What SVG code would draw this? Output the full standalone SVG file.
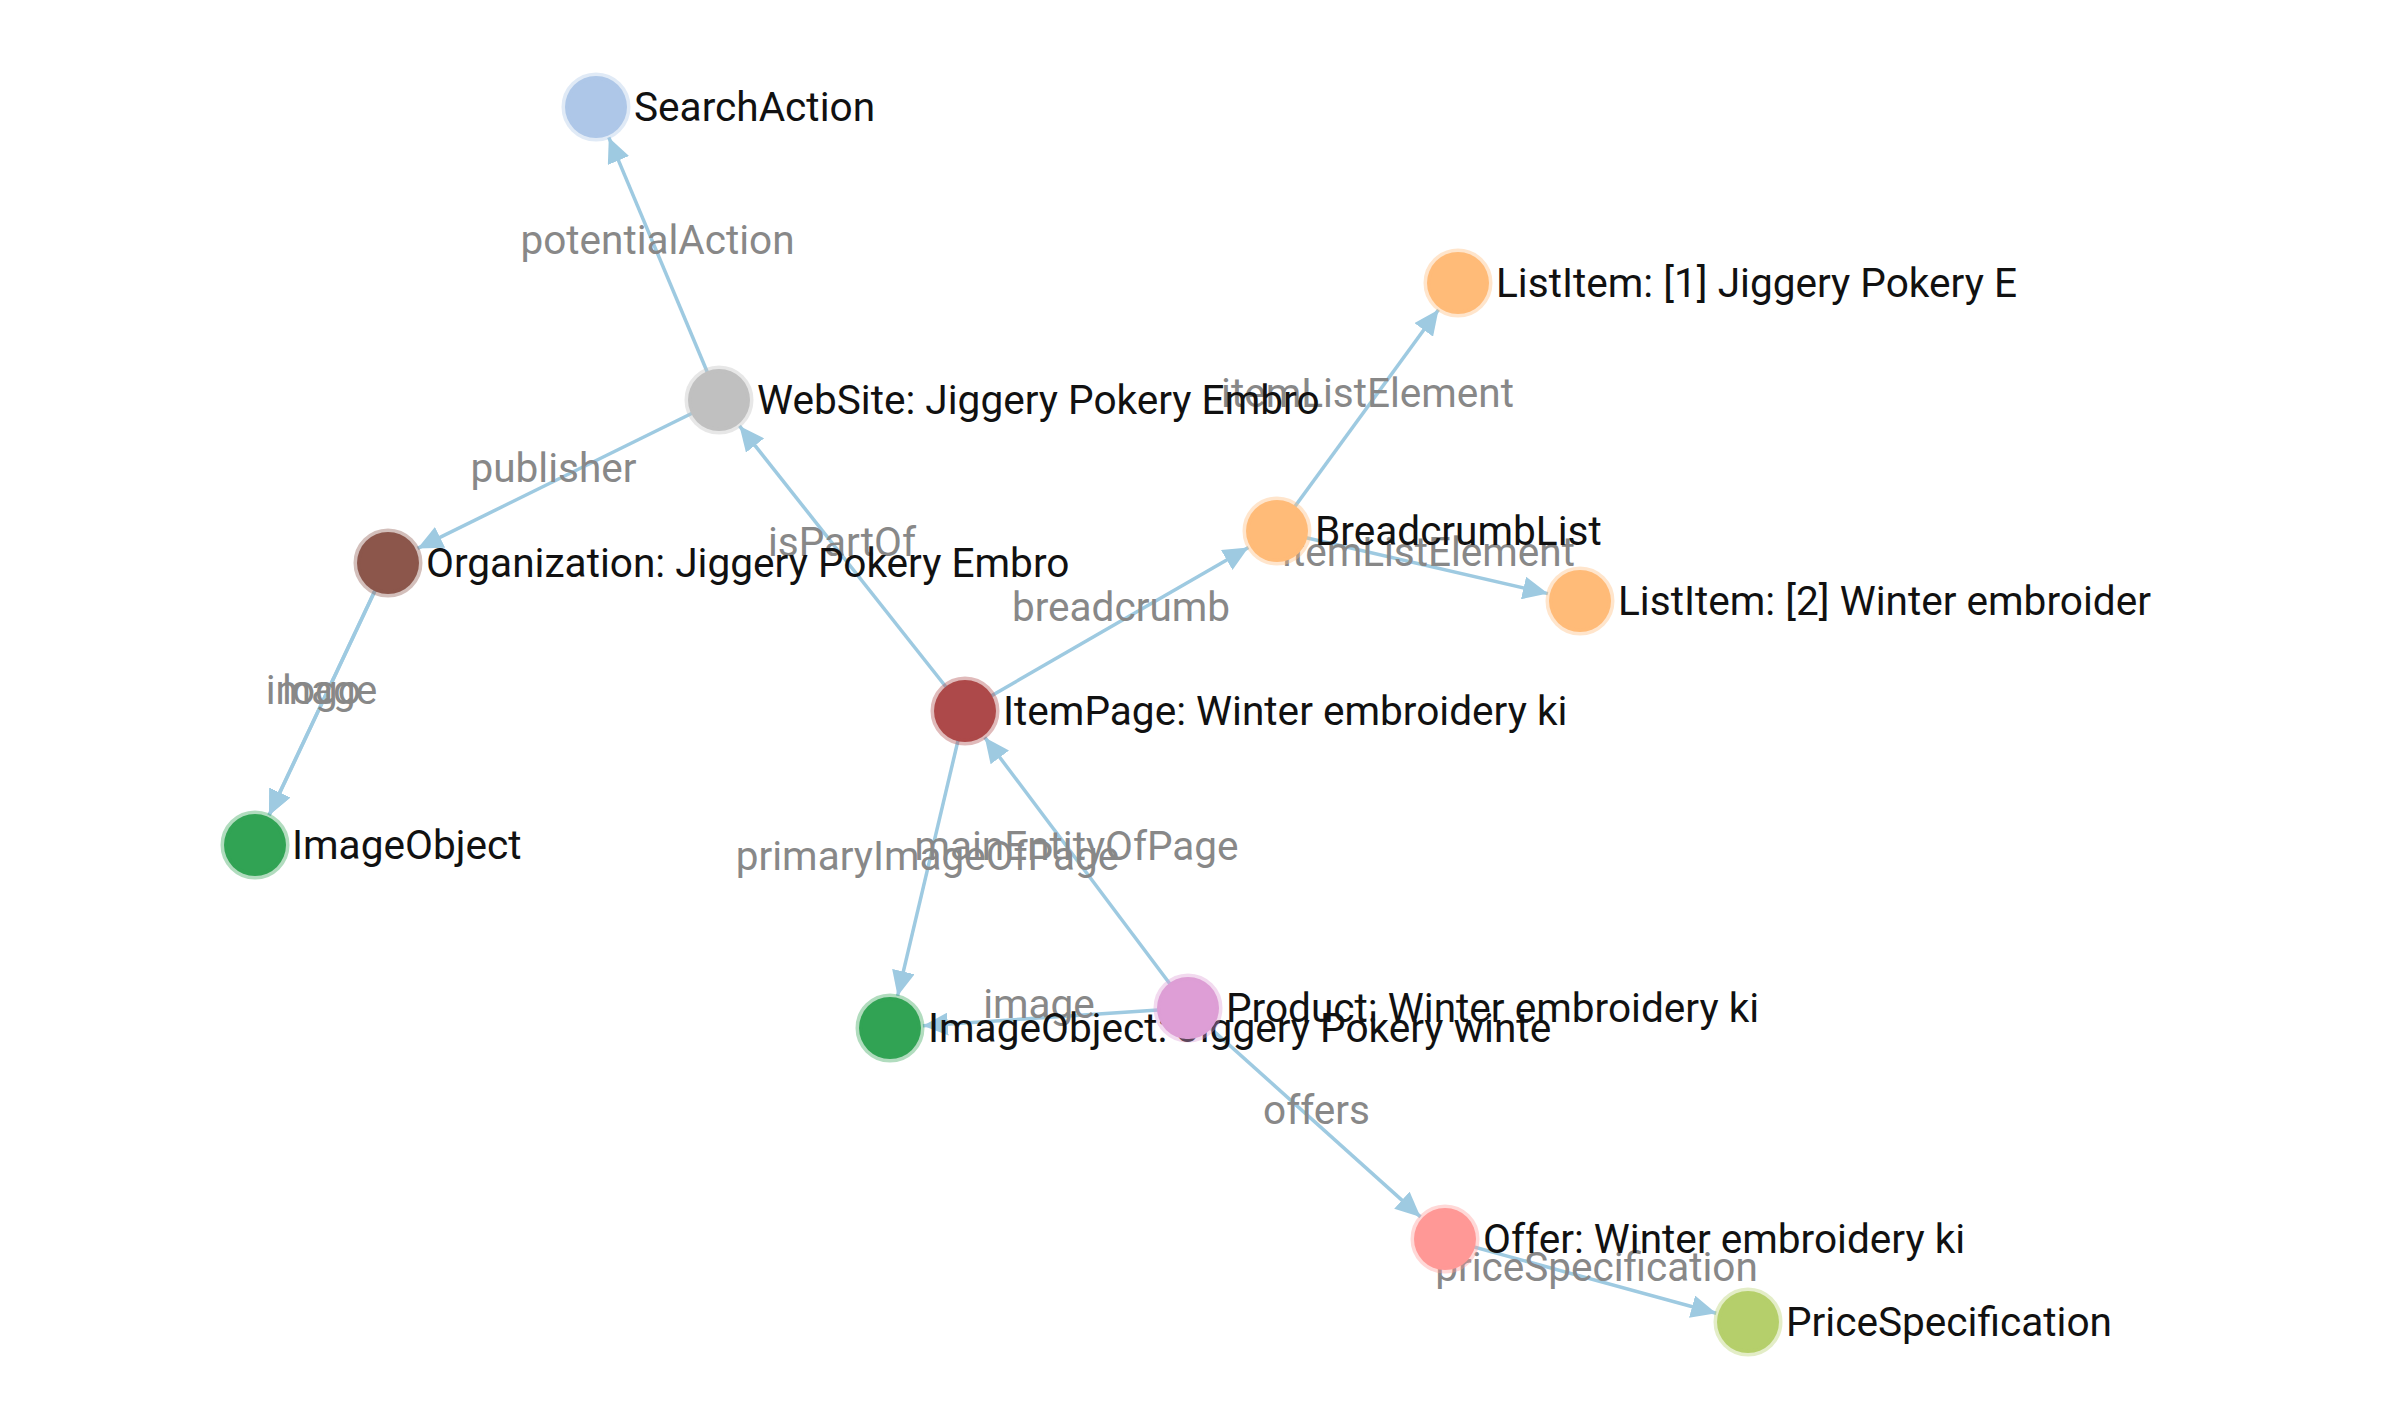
<svg xmlns="http://www.w3.org/2000/svg" width="2400" height="1414" viewBox="0 0 2400 1414">
<style>
.edge{stroke:#9ecae1;stroke-width:3.5;fill:none;marker-end:url(#arrow)}
.elabel{font-family:Roboto,"Liberation Sans",sans-serif;font-size:40.5px;fill:#888;text-anchor:middle}
.node circle{stroke-width:7;stroke-opacity:0.38}
.node text{font-family:Roboto,"Liberation Sans",sans-serif;font-size:40.6px;fill:#111}
</style>
<defs>
<marker id="arrow" markerUnits="userSpaceOnUse" markerWidth="25" markerHeight="23" refX="25" refY="11.5" orient="auto">
<path d="M0,0 L25,11.5 L0,23 z" fill="#9ecae1"/>
</marker>
</defs>
<rect width="2400" height="1414" fill="#fff"/>
<g id="connectors">
<line class="edge" x1="719" y1="400" x2="608.8" y2="137.4"/>
<line class="edge" x1="719" y1="400" x2="417.6" y2="548.4"/>
<line class="edge" x1="965" y1="711" x2="739.5" y2="425.9"/>
<line class="edge" x1="388" y1="563" x2="269.1" y2="815.2"/>
<line class="edge" x1="388" y1="563" x2="269.1" y2="815.2"/>
<line class="edge" x1="965" y1="711" x2="1248.4" y2="547.5"/>
<line class="edge" x1="1277" y1="531" x2="1438.5" y2="309.7"/>
<line class="edge" x1="1277" y1="531" x2="1547.9" y2="593.6"/>
<line class="edge" x1="965" y1="711" x2="897.6" y2="995.9"/>
<line class="edge" x1="1188" y1="1008" x2="984.8" y2="737.4"/>
<line class="edge" x1="1188" y1="1008" x2="922.9" y2="1025.8"/>
<line class="edge" x1="1188" y1="1008" x2="1420.5" y2="1216.9"/>
<line class="edge" x1="1445" y1="1239" x2="1716.2" y2="1313.3"/>
</g>
<g id="edge-labels">
<text class="elabel" x="657.5" y="253.5">potentialAction</text>
<text class="elabel" x="553.5" y="481.5">publisher</text>
<text class="elabel" x="842" y="555.5">isPartOf</text>
<text class="elabel" x="321.5" y="704">image</text>
<text class="elabel" x="321.5" y="704">logo</text>
<text class="elabel" x="1121" y="621">breadcrumb</text>
<text class="elabel" x="1367.5" y="407">itemListElement</text>
<text class="elabel" x="1428.5" y="566">itemListElement</text>
<text class="elabel" x="927.5" y="869.5">primaryImageOfPage</text>
<text class="elabel" x="1076.5" y="859.5">mainEntityOfPage</text>
<text class="elabel" x="1039" y="1018">image</text>
<text class="elabel" x="1316.5" y="1123.5">offers</text>
<text class="elabel" x="1596.5" y="1280.5">priceSpecification</text>
</g>
<g id="node-searchaction" class="node"><circle cx="596" cy="107" r="31" fill="#aec7e8" stroke="#aec7e8"/><text x="634" y="121">SearchAction</text></g>
<g id="node-website" class="node"><circle cx="719" cy="400" r="31" fill="#c0c0c0" stroke="#c0c0c0"/><text x="757" y="414">WebSite: Jiggery Pokery Embro</text></g>
<g id="node-organization" class="node"><circle cx="388" cy="563" r="31" fill="#8c564b" stroke="#8c564b"/><text x="426" y="577">Organization: Jiggery Pokery Embro</text></g>
<g id="node-imageobject1" class="node"><circle cx="255" cy="845" r="31" fill="#31a354" stroke="#31a354"/><text x="292" y="859">ImageObject</text></g>
<g id="node-itempage" class="node"><circle cx="965" cy="711" r="31" fill="#ad494a" stroke="#ad494a"/><text x="1003" y="725">ItemPage: Winter embroidery ki</text></g>
<g id="node-breadcrumblist" class="node"><circle cx="1277" cy="531" r="31" fill="#ffbb78" stroke="#ffbb78"/><text x="1315" y="545">BreadcrumbList</text></g>
<g id="node-listitem1" class="node"><circle cx="1458" cy="283" r="31" fill="#ffbb78" stroke="#ffbb78"/><text x="1496" y="297">ListItem: [1] Jiggery Pokery E</text></g>
<g id="node-listitem2" class="node"><circle cx="1580" cy="601" r="31" fill="#ffbb78" stroke="#ffbb78"/><text x="1618" y="615">ListItem: [2] Winter embroider</text></g>
<g id="node-imageobject2" class="node"><circle cx="890" cy="1028" r="31" fill="#31a354" stroke="#31a354"/><text x="928" y="1042">ImageObject: Jiggery Pokery winte</text></g>
<g id="node-product" class="node"><circle cx="1188" cy="1008" r="31" fill="#de9ed6" stroke="#de9ed6"/><text x="1226" y="1022">Product: Winter embroidery ki</text></g>
<g id="node-offer" class="node"><circle cx="1445" cy="1239" r="31" fill="#ff9896" stroke="#ff9896"/><text x="1483" y="1253">Offer: Winter embroidery ki</text></g>
<g id="node-pricespecification" class="node"><circle cx="1748" cy="1322" r="31" fill="#b5cf6b" stroke="#b5cf6b"/><text x="1786" y="1336">PriceSpecification</text></g>
</svg>
